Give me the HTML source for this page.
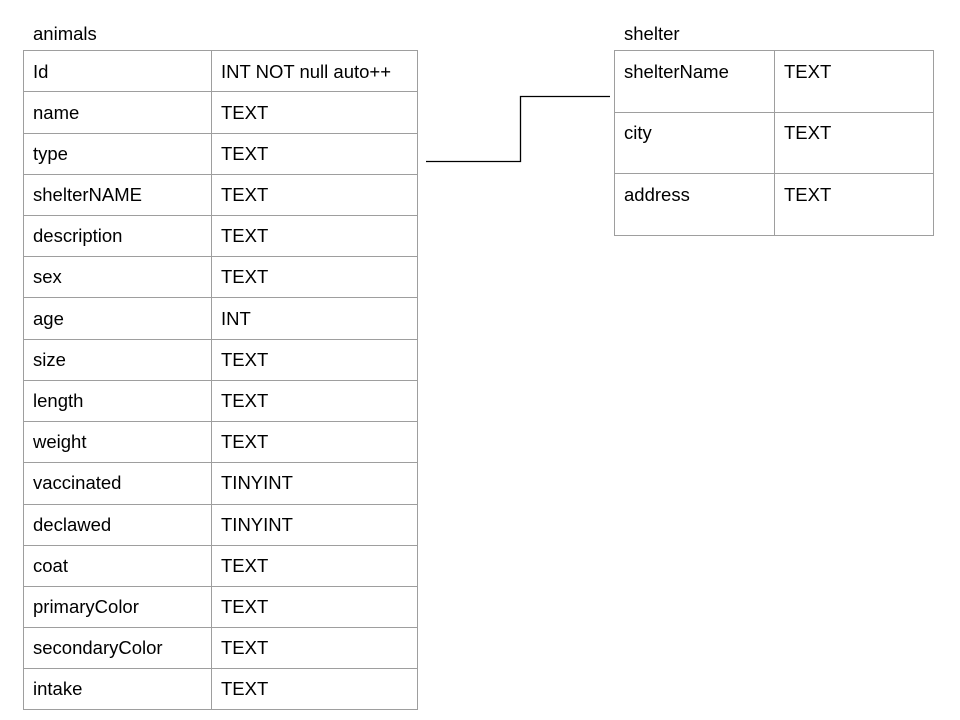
<!DOCTYPE html>
<html><head><style>body{margin:0;background:#fff}svg{display:block}text{font-family:"Liberation Sans",Arial,sans-serif;font-size:18.5px;fill:#000}</style></head><body>
<svg width="960" height="720" xmlns="http://www.w3.org/2000/svg">
<text x="33" y="40">animals</text>
<text x="624" y="40">shelter</text>
<g stroke="#9e9e9e" stroke-width="1" fill="none">
<rect x="23.5" y="50.5" width="394" height="659"/>
<line x1="211.5" y1="50" x2="211.5" y2="710"/>
<line x1="23" y1="91.5" x2="417" y2="91.5"/>
<line x1="23" y1="133.5" x2="417" y2="133.5"/>
<line x1="23" y1="174.5" x2="417" y2="174.5"/>
<line x1="23" y1="215.5" x2="417" y2="215.5"/>
<line x1="23" y1="256.5" x2="417" y2="256.5"/>
<line x1="23" y1="297.5" x2="417" y2="297.5"/>
<line x1="23" y1="339.5" x2="417" y2="339.5"/>
<line x1="23" y1="380.5" x2="417" y2="380.5"/>
<line x1="23" y1="421.5" x2="417" y2="421.5"/>
<line x1="23" y1="462.5" x2="417" y2="462.5"/>
<line x1="23" y1="504.5" x2="417" y2="504.5"/>
<line x1="23" y1="545.5" x2="417" y2="545.5"/>
<line x1="23" y1="586.5" x2="417" y2="586.5"/>
<line x1="23" y1="627.5" x2="417" y2="627.5"/>
<line x1="23" y1="668.5" x2="417" y2="668.5"/>
<rect x="614.5" y="50.5" width="319" height="185"/>
<line x1="774.5" y1="50" x2="774.5" y2="235"/>
<line x1="614" y1="112.5" x2="933" y2="112.5"/>
<line x1="614" y1="173.5" x2="933" y2="173.5"/>
</g>
<polyline points="426,161.5 520.5,161.5 520.5,96.5 610,96.5" stroke="#000" stroke-width="1.3" fill="none"/>
<g>
<text x="33" y="78">Id</text><text x="221" y="78">INT NOT null auto++</text>
<text x="33" y="119">name</text><text x="221" y="119">TEXT</text>
<text x="33" y="160">type</text><text x="221" y="160">TEXT</text>
<text x="33" y="201">shelterNAME</text><text x="221" y="201">TEXT</text>
<text x="33" y="242">description</text><text x="221" y="242">TEXT</text>
<text x="33" y="283">sex</text><text x="221" y="283">TEXT</text>
<text x="33" y="325">age</text><text x="221" y="325">INT</text>
<text x="33" y="366">size</text><text x="221" y="366">TEXT</text>
<text x="33" y="407">length</text><text x="221" y="407">TEXT</text>
<text x="33" y="448">weight</text><text x="221" y="448">TEXT</text>
<text x="33" y="489">vaccinated</text><text x="221" y="489">TINYINT</text>
<text x="33" y="531">declawed</text><text x="221" y="531">TINYINT</text>
<text x="33" y="572">coat</text><text x="221" y="572">TEXT</text>
<text x="33" y="613">primaryColor</text><text x="221" y="613">TEXT</text>
<text x="33" y="654">secondaryColor</text><text x="221" y="654">TEXT</text>
<text x="33" y="695">intake</text><text x="221" y="695">TEXT</text>
<text x="624" y="78">shelterName</text><text x="784" y="78">TEXT</text>
<text x="624" y="139">city</text><text x="784" y="139">TEXT</text>
<text x="624" y="201">address</text><text x="784" y="201">TEXT</text>
</g>
</svg>
</body></html>
